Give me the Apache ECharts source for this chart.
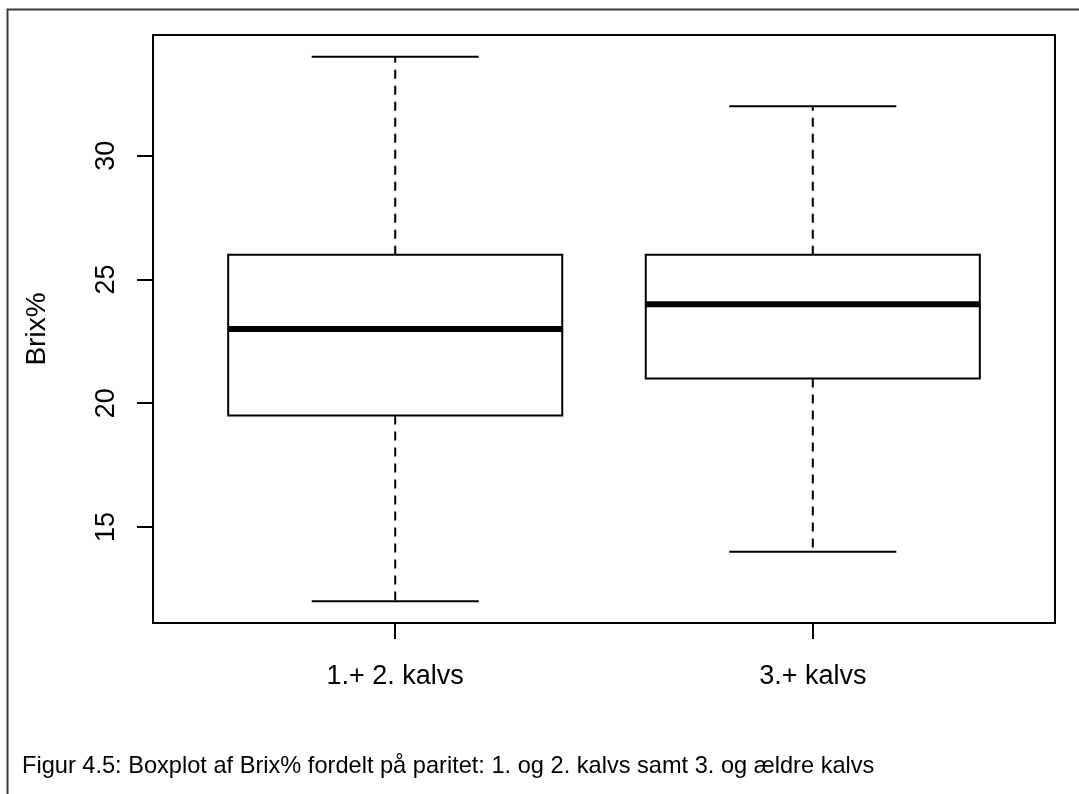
<!DOCTYPE html>
<html>
<head>
<meta charset="utf-8">
<script src="https://cdn.jsdelivr.net/npm/echarts@6/dist/echarts.min.js"></script>
<style>
  html, body { margin: 0; padding: 0; background: #fff; }
  #chart { width: 1079px; height: 794px; }
</style>
</head>
<body>
<div id="chart"></div>
<script>
// Brix% by parity group: five-number summaries
const categories = ['1.+ 2. kalvs', '3.+ kalvs'];
const whiskerLow = [12, 14];
const q1 = [19.5, 21];
const median = [23, 24];
const q3 = [26, 26];
const whiskerHigh = [34, 32];
const yTicks = [15, 20, 25, 30];
const yName = 'Brix%';
const caption = 'Figur 4.5: Boxplot af Brix% fordelt på paritet: 1. og 2. kalvs samt 3. og ældre kalvs';

const FONT = '"Liberation Sans", Arial, sans-serif';
const BOX_HALF = 0.4;    // box half-width in x units
const CAP_HALF = 0.2;    // whisker cap half-width in x units

const boxData = categories.map((c, i) =>
  [i + 1, whiskerLow[i], q1[i], median[i], q3[i], whiskerHigh[i]]);

function renderBox(params, api) {
  const x = api.value(0);
  const p = (xx, yy) => api.coord([xx, yy]);
  const lo = p(x, api.value(1));
  const b1 = p(x, api.value(2));
  const md = p(x, api.value(3));
  const b3 = p(x, api.value(4));
  const hi = p(x, api.value(5));
  const left = p(x - BOX_HALF, 0)[0];
  const right = p(x + BOX_HALF, 0)[0];
  const capL = p(x - CAP_HALF, 0)[0];
  const capR = p(x + CAP_HALF, 0)[0];
  const solid = { stroke: '#000', lineWidth: 2, fill: null };
  const dashed = { stroke: '#000', lineWidth: 2, lineDash: [9, 7] };
  return {
    type: 'group',
    children: [
      { type: 'line', shape: { x1: hi[0], y1: b3[1], x2: hi[0], y2: hi[1] }, style: dashed },
      { type: 'line', shape: { x1: lo[0], y1: b1[1], x2: lo[0], y2: lo[1] }, style: dashed },
      { type: 'line', shape: { x1: capL, y1: hi[1], x2: capR, y2: hi[1] }, style: solid },
      { type: 'line', shape: { x1: capL, y1: lo[1], x2: capR, y2: lo[1] }, style: solid },
      { type: 'rect', shape: { x: left, y: b3[1], width: right - left, height: b1[1] - b3[1] },
        style: { stroke: '#000', lineWidth: 2, fill: '#fff' } },
      { type: 'line', shape: { x1: left, y1: md[1], x2: right, y2: md[1] },
        style: { stroke: '#000', lineWidth: 6 } }
    ]
  };
}

const chart = echarts.init(document.getElementById('chart'), null, { renderer: 'canvas' });
chart.setOption({
  backgroundColor: '#fff',
  animation: false,
  textStyle: { fontFamily: FONT, color: '#000' },
  grid: {
    left: 153, right: 24, top: 35, bottom: 171,
    show: true, borderColor: '#000', borderWidth: 2, backgroundColor: 'transparent'
  },
  xAxis: {
    type: 'value', min: 0.42, max: 2.58,
    splitLine: { show: false },
    axisLine: { show: false },
    axisTick: { show: true, customValues: [1, 2], length: 16, lineStyle: { color: '#000', width: 2 } },
    axisLabel: {
      customValues: [1, 2], margin: 40, fontSize: 27, color: '#000', fontFamily: FONT,
      formatter: v => categories[Math.round(v) - 1] || ''
    }
  },
  yAxis: {
    type: 'value', min: 11.12, max: 34.88,
    name: yName, nameLocation: 'middle', nameGap: 102, nameRotate: 90,
    nameTextStyle: { fontSize: 28, color: '#000', fontFamily: FONT },
    splitLine: { show: false },
    axisLine: { show: false },
    axisTick: { show: true, customValues: yTicks, length: 16, lineStyle: { color: '#000', width: 2 } },
    axisLabel: {
      customValues: yTicks, rotate: 90, margin: 33, fontSize: 27, color: '#000', fontFamily: FONT
    }
  },
  graphic: [
    { type: 'polyline', silent: true,
      shape: { points: [[7.5, 800], [7.5, 9.5], [1085, 9.5]] },
      style: { stroke: '#3a3a3a', lineWidth: 2, fill: null } },
    { type: 'text', left: 22, top: 754, silent: true,
      style: { text: caption, font: '23.6px ' + FONT, fill: '#000' } }
  ],
  series: [{
    type: 'custom',
    renderItem: renderBox,
    data: boxData,
    encode: { x: 0, y: [1, 2, 3, 4, 5] },
    clip: false
  }]
});
</script>
</body>
</html>
